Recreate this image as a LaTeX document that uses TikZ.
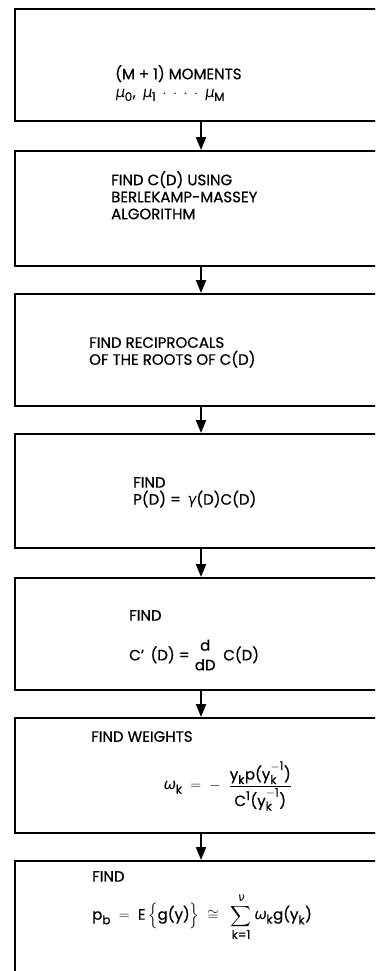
\documentclass[tikz,border=0pt]{standalone}
\usepackage{amsmath}
\usepackage{fontspec}
\setmainfont{Poppins}[FakeBold=0.6]
\newfontfamily\gkfont{DejaVu Sans}[FakeSlant=0.15]
\usetikzlibrary{arrows.meta}
\DeclareMathSizes{15}{15}{12}{10}
\newcommand{\tx}[1]{\text{#1}}
\newcommand{\gk}[1]{\text{\gkfont #1}}
\begin{document}
\begin{tikzpicture}[x=1pt,y=-1pt,
  stepbox/.style={draw,line width=1.6pt,anchor=north west,minimum width=390pt,inner sep=0pt},
  flow/.style={line width=2.2pt,-{Triangle[length=13pt,width=10pt]}},
  txt/.style={anchor=north west,inner sep=0pt,align=left,font=\fontsize{15}{17}\selectfont}]
\useasboundingbox (0,0) rectangle (375,971);
\clip (0,0) rectangle (375,971);
\node[stepbox,minimum height=112pt] (b1) at (14,8) {};
\node[stepbox,minimum height=115pt] (b2) at (14,150) {};
\node[stepbox,minimum height=112pt] (b3) at (14,293) {};
\node[stepbox,minimum height=114pt] (b4) at (14,433) {};
\node[stepbox,minimum height=112pt] (b5) at (14,577) {};
\node[stepbox,minimum height=115pt] (b6) at (14,717) {};
\node[stepbox,minimum height=140pt] (b7) at (14,860) {};
\foreach \a/\b in {b1/b2,b2/b3,b3/b4,b4/b5,b5/b6,b6/b7}
  \draw[flow] ([xshift=187pt]\a.south west) -- ([xshift=187pt]\b.north west);
\node[txt] (t1) at (115,65) {(M + 1) MOMENTS\\[1pt]$\gk{μ}_{\tx{0}}$, \,$\gk{μ}_{\tx{1}}$ \,$\cdot$ \,$\cdot$ \,$\cdot$ \,$\cdot$ \,$\gk{μ}_{\tx{M}}$};
\node[txt] (t2) at (111,171) {FIND C(D) USING\\BERLEKAMP-MASSEY\\ALGORITHM};
\node[txt] (t3) at (89,337) {FIND RECIPROCALS\\OF THE ROOTS OF C(D)};
\node[txt] (t4) at (133,477) {FIND\\P(D) = \,\gk{γ}(D)C(D)};
\node[txt] (t5) at (129,610) {FIND};
\node[txt,anchor=west] (f5) at (129,655) {C' \,(D) = $\genfrac{}{}{0pt}{0}{\tx{d}}{\tx{dD}}$\, C(D)};
\node[txt] (t6) at (91,731) {FIND WEIGHTS};
\node[txt,anchor=west] (f6) at (163,786) {$\gk{ω}_{\tx{k}} \;=\; -\;\; \dfrac{\tx{y}_{\tx{k}}\tx{p(y}_{\tx{k}}^{-\tx{1}}\tx{)}}{\tx{C}^{\tx{1}}\tx{(y}_{\tx{k}}^{-\tx{1}}\tx{)}}$};
\node[txt] (t7) at (92,871) {FIND};
\node[txt,anchor=west] (f7) at (92,917) {$\tx{p}_{\tx{b}} \;=\; \tx{E}\left\{\tx{g(y)}\right\} \;\cong\;\; \displaystyle\sum_{\tx{k=1}}^{\gk{ν}} \gk{ω}_{\tx{k}}\tx{g(y}_{\tx{k}}\tx{)}$};
\end{tikzpicture}
\end{document}
